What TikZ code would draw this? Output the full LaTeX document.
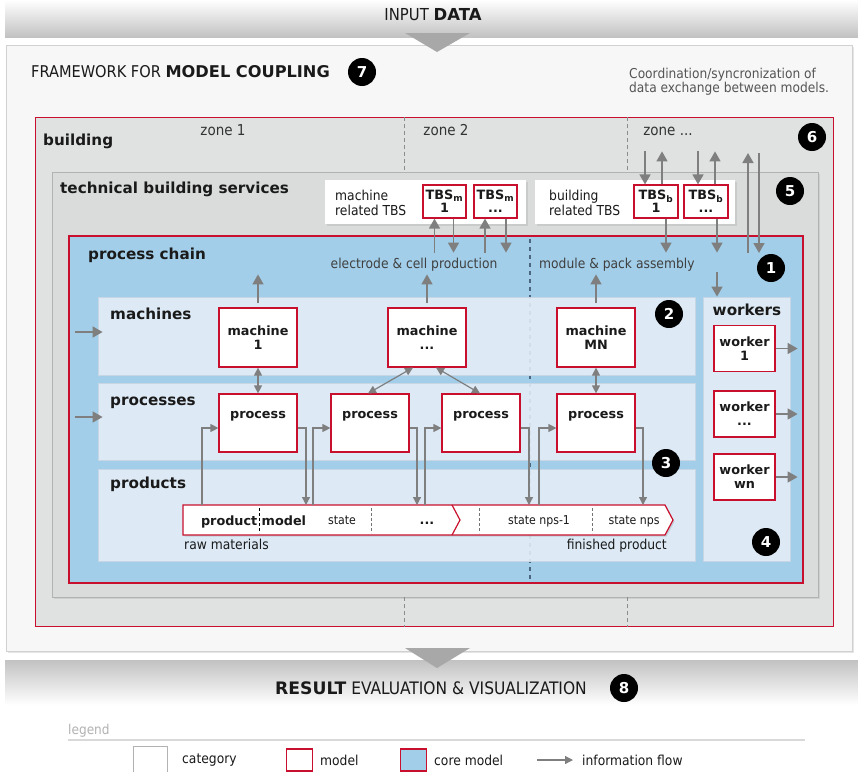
\documentclass[tikz,border=0pt]{standalone}
\usepackage{fontspec}
\setmainfont{DejaVu Sans Condensed}[BoldFont={DejaVu Sans Bold}]
\usetikzlibrary{arrows.meta,calc,shadows}

\definecolor{modelred}{HTML}{C8102E}
\definecolor{chainblue}{HTML}{A2CEE9}
\definecolor{bandfill}{HTML}{E6EFF7}
\definecolor{bandline}{HTML}{C6D6E4}
\definecolor{bldgfill}{HTML}{E0E2E2}
\definecolor{tbsfill}{HTML}{DADCDC}
\definecolor{flowgray}{HTML}{7F7F7F}
\definecolor{txt}{HTML}{1A1A1A}
\definecolor{softtxt}{HTML}{555555}
\definecolor{splitline}{HTML}{4A6680}

\begin{document}
\begin{tikzpicture}[x=1pt,y=-1pt,
  hd/.style={anchor=base west, inner sep=0pt, text=txt, font=\fontsize{15.2}{18}\selectfont\bfseries},
  lbl/.style={inner sep=0pt, text=txt, font=\fontsize{13.7}{15}\selectfont},
  mtext/.style={align=center, text=txt, font=\fontsize{12.8}{14.5}\selectfont\bfseries},
  model/.style={draw=modelred, line width=1.2pt, fill=white, inner sep=0pt},
  band/.style={draw=bandline, line width=0.8pt, fill=bandfill, fill opacity=0.88, inner sep=0pt},
  group/.style={fill=white, inner sep=0pt, drop shadow={opacity=0.18, shadow xshift=1.5pt, shadow yshift=-1.5pt}},
  flow/.style={draw=flowgray, line width=1.5pt, -{Triangle[width=11pt,length=10pt]}},
  flows/.style={draw=flowgray, line width=1.2pt, -{Triangle[width=8pt,length=8pt]}},
  flowsb/.style={draw=flowgray, line width=1.2pt, {Triangle[width=8pt,length=8pt]}-{Triangle[width=8pt,length=8pt]}},
  zonedash/.style={draw=black!45, line width=1pt, dash pattern=on 4pt off 3pt},
  stepdash/.style={draw=black!55, line width=0.9pt, dash pattern=on 3pt off 2pt},
  badge/.style={circle, fill=black, text=white, minimum size=28pt, inner sep=0pt, font=\fontsize{15}{15}\selectfont\bfseries},
  prodtxt/.style={inner sep=0pt, text=txt, font=\fontsize{12.2}{14}\selectfont},
]
\useasboundingbox (0,0) rectangle (858,771);
\fill[white] (0,0) rectangle (858,771);

% ---------- input band ----------
\shade[top color=white, bottom color=black!24] (5,0) rectangle (858,37);
\node[inner sep=0pt, text=txt, font=\fontsize{16.5}{18}\selectfont] (input) at (433,15) {INPUT \textbf{DATA}};

% ---------- framework ----------
\node[draw=black!18, fill=black!3, minimum width=846pt, minimum height=606pt, inner sep=0pt,
      drop shadow={opacity=0.2, shadow xshift=1.5pt, shadow yshift=-2pt}] (fw) at (429,348) {};
\fill[black!34] (405,33) -- (470,33) -- (437,52) -- cycle;
\node[anchor=base west, inner sep=0pt, text=txt, font=\fontsize{16.2}{18}\selectfont] (fwt) at (31,77) {FRAMEWORK FOR \textbf{MODEL COUPLING}};
\node[badge] (b7) at (362,72) {7};
\node[anchor=west, align=left, inner sep=0pt, text=softtxt, font=\fontsize{13.6}{14}\selectfont] (coord) at (629,82)
  {Coordination/syncronization of\\data exchange between models.};

% ---------- building ----------
\node[draw=modelred, line width=1pt, fill=bldgfill, minimum width=798pt, minimum height=509pt, inner sep=0pt] (bld) at (434.5,371.5) {};
\node[hd] (bldt) at (43,145) {building};
\node[lbl, anchor=base, font=\fontsize{15}{17}\selectfont, text=black!80] (z1) at (223,135) {zone 1};
\node[lbl, anchor=base, font=\fontsize{15}{17}\selectfont, text=black!80] (z2) at (446,135) {zone 2};
\node[lbl, anchor=base, font=\fontsize{15}{17}\selectfont, text=black!80] (z3) at (668,135) {zone ...};
\coordinate (zA) at (404,0);
\coordinate (zB) at (627.5,0);
\node[badge] (b6) at (812,137) {6};

% ---------- technical building services ----------
\node[draw=black!30, fill=tbsfill, minimum width=766pt, minimum height=425pt, inner sep=0pt,
      drop shadow={opacity=0.18, shadow xshift=1.5pt, shadow yshift=-2pt}] (tbs) at (435,384.5) {};
\draw[zonedash] (zA |- bld.north) -- (zA |- tbs.north);
\draw[zonedash] (zB |- bld.north) -- (zB |- tbs.north);
\draw[zonedash] (zA |- tbs.south) -- (zA |- bld.south);
\draw[zonedash] (zB |- tbs.south) -- (zB |- bld.south);
\node[hd] (tbst) at (60,193) {technical building services};
\node[badge] (b5) at (790,191) {5};

\node[group, minimum width=201pt, minimum height=44pt] (mg) at (425.5,202) {};
\node[lbl, anchor=west, align=left, font=\fontsize{13.7}{15}\selectfont] (mgt) at (335,203) {machine\\related TBS};
\node[model, mtext, font=\fontsize{12.8}{13}\selectfont\bfseries, minimum width=43pt, minimum height=33pt] (tm1) at (444.5,201.5) {TBS\textsubscript{m}\\1};
\node[model, mtext, font=\fontsize{12.8}{13}\selectfont\bfseries, minimum width=43pt, minimum height=33pt] (tm2) at (495.5,201.5) {TBS\textsubscript{m}\\...};

\node[group, minimum width=200pt, minimum height=44pt] (bg) at (635,202) {};
\node[lbl, anchor=west, align=left, font=\fontsize{13.7}{15}\selectfont] (bgt) at (549,203) {building\\related TBS};
\node[model, mtext, font=\fontsize{12.8}{13}\selectfont\bfseries, minimum width=44pt, minimum height=33pt] (tb1) at (656,201.5) {TBS\textsubscript{b}\\1};
\node[model, mtext, font=\fontsize{12.8}{13}\selectfont\bfseries, minimum width=44pt, minimum height=33pt] (tb2) at (706,201.5) {TBS\textsubscript{b}\\...};

% ---------- process chain (core model) ----------
\node[draw=modelred, line width=2pt, fill=chainblue, minimum width=734pt, minimum height=347pt, inner sep=0pt] (pc) at (436,409.5) {};
\coordinate (dv) at (530,0);
\draw[draw=splitline, line width=1.2pt, dash pattern=on 4pt off 4pt, shorten <=4pt, shorten >=4pt] (dv |- pc.north) -- (dv |- pc.south);
\node[hd] (pct) at (88,259) {process chain};
\node[lbl, anchor=base, text=black!75] (ecp) at (414,268) {electrode \& cell production};
\node[lbl, anchor=base west, text=black!75] (mpa) at (539,268) {module \& pack assembly};
\node[badge] (b1) at (771,268) {1};

% bands
\node[band, minimum width=597pt, minimum height=78pt] (mach) at (396.5,336) {};
\node[band, minimum width=597pt, minimum height=77pt] (proc) at (396.5,421.5) {};
\node[band, minimum width=597pt, minimum height=92pt] (prod) at (396.5,515) {};
\node[band, minimum width=87pt, minimum height=264pt] (wk) at (746.5,429) {};
\node[hd] (macht) at (110,319) {machines};
\node[hd] (proct) at (110,405) {processes};
\node[hd] (prodt) at (110,488) {products};
\node[hd, anchor=base] (wkt) at (747,315) {workers};
\node[badge] (b2) at (669,314) {2};
\node[badge] (b3) at (666,463) {3};
\node[badge] (b4) at (766,542) {4};

% machines
\node[model, mtext, minimum width=78pt, minimum height=59pt] (m1) at (258,337.5) {machine\\1};
\node[model, mtext, minimum width=78pt, minimum height=59pt] (m2) at (427,337.5) {machine\\...};
\node[model, mtext, minimum width=78pt, minimum height=59pt] (m3) at (596,337.5) {machine\\MN};

% processes
\node[model, minimum width=78pt, minimum height=58pt] (p1) at (258,423) {};
\node[model, minimum width=78pt, minimum height=58pt] (p2) at (370,423) {};
\node[model, minimum width=78pt, minimum height=58pt] (p3) at (481,423) {};
\node[model, minimum width=78pt, minimum height=58pt] (p4) at (596,423) {};
\foreach \p in {p1,p2,p3,p4}
  \node[mtext, anchor=base, inner sep=0pt] (\p t) at ($(\p.north)+(0,25)$) {process};

% workers
\node[model, mtext, font=\fontsize{12.8}{14}\selectfont\bfseries, minimum width=61pt, minimum height=46pt] (w1) at (744.5,348.5) {worker\\1};
\node[model, mtext, font=\fontsize{12.8}{14}\selectfont\bfseries, minimum width=61pt, minimum height=46pt] (w2) at (744.5,414) {worker\\...};
\node[model, mtext, font=\fontsize{12.8}{14}\selectfont\bfseries, minimum width=61pt, minimum height=46pt] (w3) at (744.5,477) {worker\\wn};

% product model bar
\coordinate (pbA) at (183,505);
\coordinate (pbB) at (665,505);
\coordinate (pbC) at (673,520);
\coordinate (pbD) at (665,535);
\coordinate (pbE) at (183,535);
\fill[black, opacity=0.12] ([xshift=1.5pt,yshift=-1.5pt]pbA) -- ([xshift=1.5pt,yshift=-1.5pt]pbB) -- ([xshift=1.5pt,yshift=-1.5pt]pbC) -- ([xshift=1.5pt,yshift=-1.5pt]pbD) -- ([xshift=1.5pt,yshift=-1.5pt]pbE) -- cycle;
\draw[draw=modelred, line width=1.2pt, fill=white] (pbA) -- (pbB) -- (pbC) -- (pbD) -- (pbE) -- cycle;
\draw[draw=modelred, line width=1.2pt] (452,505) -- (460,520) -- (452,535);
\draw[draw=black, line width=0.9pt, dash pattern=on 3pt off 2pt] (259,508) -- (259,533);
\draw[stepdash] (371,508) -- (371,533);
\draw[stepdash] (479,508) -- (479,533);
\draw[stepdash] (592,508) -- (592,533);
\node[mtext, anchor=base east, inner sep=0pt] (pmA) at (257.5,525) {product};
\node[mtext, anchor=base west, inner sep=0pt] (pmB) at (261.5,525) {model};
\node[prodtxt, anchor=base] (s1) at (342,524) {state};
\node[mtext, anchor=base, inner sep=0pt] (s2) at (427,524) {...};
\node[prodtxt, anchor=base] (s3) at (539,524) {state nps-1};
\node[prodtxt, anchor=base] (s4) at (634,524) {state nps};
\node[lbl, anchor=base west] (raw) at (184,549) {raw materials};
\node[lbl, anchor=base east] (fin) at (667,549) {finished product};

% ---------- information flow ----------
% into the bands from the left
\draw[flow] ([xshift=-23pt,yshift=4pt]mach.west) -- ([xshift=5pt,yshift=4pt]mach.west);
\draw[flow] ([xshift=-23pt,yshift=4.5pt]proc.west) -- ([xshift=5pt,yshift=4.5pt]proc.west);
% machines up to the process chain
\foreach \m in {m1,m2,m3}
  \draw[flow] ([yshift=4pt]\m.north) -- ++(0,-29);
% machines <-> processes
\draw[flowsb] (m1.south) -- (p1.north);
\draw[flowsb] ([xshift=-14pt]m2.south) -- ([xshift=-2pt]p2.north);
\draw[flowsb] ([xshift=9pt]m2.south) -- ([xshift=-1pt]p3.north);
\draw[flowsb] (m3.south) -- (p4.north);
% processes <-> product states
\coordinate (in1) at (202,505);  \coordinate (out1) at (306,505);
\coordinate (in2) at (313,505);  \coordinate (out2) at (417,505);
\coordinate (in3) at (425,505);  \coordinate (out3) at (529,505);
\coordinate (in4) at (539,505);  \coordinate (out4) at (643,505);
\foreach \i/\p in {1/p1,2/p2,3/p3,4/p4}{
  \draw[flows] (in\i) |- ([yshift=-5pt]\p.west);
  \draw[flows] ([yshift=-5pt]\p.east) -| (out\i);
}
% TBS <-> process chain
\draw[flow] ([xshift=-10pt,yshift=-34pt]tm1.south) -- ([xshift=-10pt]tm1.south);
\draw[flow] ([xshift=9pt]tm1.south) -- ++(0,34);
\draw[flow] ([xshift=-10.5pt,yshift=-34pt]tm2.south) -- ([xshift=-10.5pt]tm2.south);
\draw[flow] ([xshift=10.5pt]tm2.south) -- ++(0,34);
\draw[flow] ([xshift=10pt]tb1.south) -- ++(0,34);
\draw[flow] ([xshift=11pt]tb2.south) -- ++(0,34);
% building zones <-> building related TBS
\draw[flow] ([xshift=-11pt,yshift=33pt]tb1.north) -- ([xshift=-11pt]tb1.north);
\draw[flow] ([xshift=6pt]tb1.north) -- ++(0,-33);
\draw[flow] ([xshift=-8pt,yshift=33pt]tb2.north) -- ([xshift=-8pt]tb2.north);
\draw[flow] ([xshift=9pt]tb2.north) -- ++(0,-33);
% process chain <-> building
\coordinate (syncA) at (748,253);
\coordinate (syncB) at (759,153);
\draw[flow] (syncA) -- ++(0,-100);
\draw[flow] (syncB) -- ++(0,100);
% to and from the workers
\coordinate (wkin) at (717,272);
\draw[flow] (wkin) -- (wkin |- wk.north);
\foreach \w in {w1,w2,w3}
  \draw[flow] (\w.east) -- ++(22,0);

% ---------- result band ----------
\shade[top color=black!24, bottom color=white] (5,660) rectangle (858,705);
\fill[black!34] (405,648) -- (470,648) -- (437,668) -- cycle;
\node[inner sep=0pt, text=txt, anchor=base, font=\fontsize{17.2}{18}\selectfont] (res) at (431,694) {\textbf{RESULT} EVALUATION \& VISUALIZATION};
\node[badge] (b8) at (624,688) {8};

% ---------- legend ----------
\node[anchor=base west, inner sep=0pt, text=black!30, font=\fontsize{13.5}{15}\selectfont] (legt) at (68,734) {legend};
\draw[black!15, line width=1.2pt] (68,740) -- (805,740);
\node[draw=black!30, fill=white, minimum width=34pt, minimum height=28pt, inner sep=0pt] (lg1) at (150,760) {};
\node[lbl, anchor=west] (lg1t) at (182,760) {category};
\node[model, minimum width=26pt, minimum height=22pt] (lg2) at (299.5,760) {};
\node[lbl, anchor=west] (lg2t) at (320,760) {model};
\node[model, fill=chainblue, minimum width=26pt, minimum height=22pt] (lg3) at (413.5,760) {};
\node[lbl, anchor=west] (lg3t) at (434,760) {core model};
\coordinate (lgA) at (537,760);
\draw[flows] (lgA) -- ++(36,0);
\node[lbl, anchor=west] (lg4t) at (582,760) {information flow};
\end{tikzpicture}
\end{document}
